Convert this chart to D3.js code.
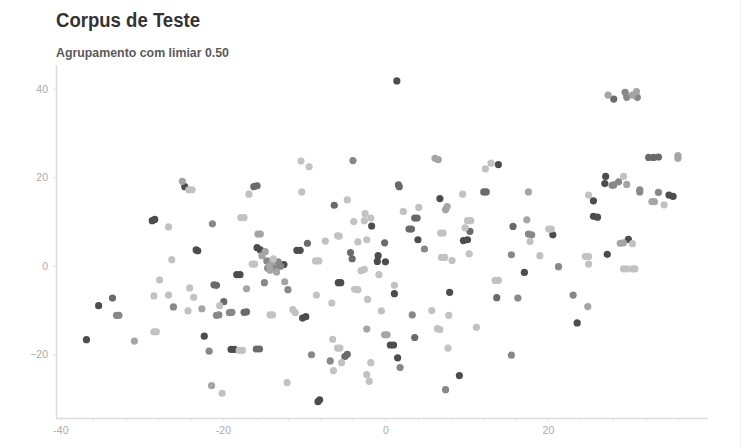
<!DOCTYPE html>
<html><head><meta charset="utf-8">
<script src="https://cdn.jsdelivr.net/npm/d3@7"></script>
<style>
body{margin:0;background:#fff;}
svg{display:block;font-family:"Liberation Sans",Arial,sans-serif;}
</style></head>
<body><svg id="chart" width="747" height="448"></svg>
<script>
const titleText = "Corpus de Teste";
const subtitleText = "Agrupamento com limiar 0.50";
const xTickValues = d3.range(-40, 37, 4);
const xTickLabels = [-40, -20, 0, 20];
const yTickValues = [-20, 0, 20, 40];
const shadeColors = ["#4d4d4d", "#6a6a6a", "#888888", "#a5a5a5", "#c2c2c2"];

const cluster1 = [[-24.7,17.9],[-28.7,10.2],[-28.4,10.5],[-15.8,4.1],[-15.4,3.6],[-23.3,3.6],[-23.1,3.4],[1.4,41.8],[13.9,22.9],[6.7,15.2],[-1.7,9.0],[9.6,5.7],[10.1,5.9],[4.0,5.9],[-10.9,3.5],[-10.5,3.5],[27.1,20.2],[27.0,18.6],[34.9,16.0],[35.4,15.7],[25.6,14.7],[25.6,11.2],[26.1,11.0],[20.6,7.0],[29.9,6.0],[17.1,-1.5],[27.3,2.6],[23.6,-12.9],[7.9,-6.0],[-0.9,2.3],[-1.0,1.0],[0.0,0.9],[-5.8,-3.8],[-5.5,-3.8],[1.1,-6.3],[-10.2,-11.8],[-9.8,-11.5],[-12.5,0.3],[-18.3,-2.0],[-17.9,-2.0],[-35.3,-9.0],[-36.8,-16.7],[-22.3,-15.9],[-19.0,-18.9],[-18.6,-18.9],[-8.3,-30.7],[-8.1,-30.3],[0.6,-17.9],[1.0,-17.9],[1.5,-20.8],[9.1,-24.8]];
const cluster2 = [[-16.2,17.9],[-15.8,18.1],[28.1,37.7],[32.4,24.5],[33.0,24.5],[33.6,24.6],[1.6,18.3],[1.7,17.9],[12.1,16.7],[12.4,16.7],[-6.3,13.7],[3.6,10.8],[3.9,10.8],[2.9,8.3],[3.2,8.3],[10.4,7.8],[-0.1,5.2],[-9.6,5.1],[15.7,8.9],[13.7,-7.2],[-4.3,3.0],[-4.1,1.6],[-21.1,-4.3],[-20.8,-4.4],[-19.9,-8.1],[-33.6,-7.3],[-17.4,-10.5],[-17.1,-10.4],[-15.9,-18.8],[-15.5,-18.8],[-4.7,-20.0],[-5.0,-20.5],[3.6,-16.2]];
const cluster3 = [[-21.3,9.5],[-4.0,23.8],[4.8,3.8],[29.5,39.2],[29.7,38.1],[31.0,38.1],[28.1,18.3],[28.7,19.0],[27.9,18.2],[31.3,17.2],[31.3,16.7],[33.6,16.6],[17.6,7.2],[18.0,7.0],[15.5,2.5],[21.3,-0.2],[16.3,-7.3],[23.1,-6.6],[15.5,-20.2],[3.3,-11.1],[-14.6,1.1],[-13.5,-0.5],[-13.2,0.9],[-12.9,-0.1],[-14.5,-0.5],[-14.0,0.2],[-14.9,-3.8],[-12.0,-5.4],[-33.1,-11.2],[-32.8,-11.2],[-26.1,-9.3],[-20.8,-11.2],[-20.5,-11.1],[-19.2,-10.6],[-18.9,-10.5],[-21.7,-19.3],[-9.1,-20.1],[-6.8,-21.5],[1.8,-23.0],[7.4,-28.0]];
const cluster4 = [[-25.0,19.1],[-15.7,7.2],[-15.4,7.2],[6.1,24.3],[6.5,24.0],[7.6,13.4],[7.4,12.7],[27.4,38.6],[30.4,38.6],[30.9,39.4],[36.0,24.9],[36.0,24.3],[17.6,16.7],[29.7,18.4],[32.8,14.5],[33.1,14.5],[17.4,10.4],[28.9,5.1],[29.3,5.2],[24.9,-9.2],[-14.8,3.2],[-15.2,2.3],[-14.3,0.0],[-13.9,0.9],[-14.2,-1.0],[-13.4,-1.4],[-12.4,-3.6],[-17.1,-5.2],[-22.6,-9.7],[-30.9,-17.0],[-21.4,-27.1],[-2.3,-14.3],[-0.1,-15.6],[0.2,-15.6]];
const cluster5 = [[-24.2,17.2],[-23.8,17.2],[-26.7,8.8],[-16.8,16.2],[-17.8,10.9],[-17.4,10.9],[-10.4,23.7],[-9.4,22.4],[13.0,23.2],[12.3,21.9],[-10.3,16.7],[9.5,16.2],[-4.7,14.9],[2.2,12.3],[4.1,13.2],[-2.5,11.8],[-1.8,10.8],[-2.6,10.2],[-3.9,10.0],[10.1,10.2],[10.5,10.2],[9.8,8.6],[6.8,7.4],[7.1,7.4],[-2.3,5.9],[-3.4,5.4],[-5.9,6.8],[-5.7,6.7],[-7.4,5.6],[29.3,20.2],[34.3,13.8],[25.0,16.0],[17.8,5.5],[20.1,8.3],[20.4,8.3],[30.4,5.0],[19.0,2.3],[24.6,2.1],[25.0,2.1],[25.0,0.4],[29.3,-0.7],[29.7,-0.7],[30.4,-0.7],[30.7,-0.7],[13.5,-3.3],[13.9,-3.3],[10.3,2.7],[8.2,1.2],[6.9,1.9],[7.3,1.9],[-8.6,1.1],[-8.2,1.1],[-3.0,-1.1],[-2.6,-0.8],[-0.8,-2.0],[-3.8,-5.3],[-3.4,-5.4],[1.1,-4.4],[-8.5,-6.6],[-6.6,-8.4],[-2.2,-7.6],[-0.5,-10.2],[5.7,-10.1],[7.8,-11.2],[-16.4,0.4],[-16.1,0.4],[-13.8,1.6],[-26.3,1.4],[-27.8,-3.2],[-24.1,-5.0],[-28.5,-6.8],[-26.7,-6.6],[-23.6,-7.1],[-24.3,-10.2],[-20.4,-9.0],[-14.2,-11.1],[-13.9,-11.1],[-28.5,-14.9],[-28.2,-14.9],[-18.0,-19.1],[-17.6,-19.1],[-20.1,-28.8],[-11.4,-9.9],[-11.1,-10.6],[-6.5,-16.6],[-5.9,-18.6],[-5.6,-18.6],[-5.4,-21.9],[-6.4,-23.7],[-1.8,-21.9],[-2.3,-24.6],[-2.0,-26.1],[-12.1,-26.4],[6.4,-14.2],[6.7,-14.4],[7.7,-18.6],[11.2,-13.9]];

const clusters = [cluster1, cluster2, cluster3, cluster4, cluster5];

const svg = d3.select("#chart");
const plotLeft = 56, plotRight = 708, plotTop = 65, plotBottom = 418;
const x = d3.scaleLinear().domain([-40.55, 39.7]).range([plotLeft, plotRight]);
const y = d3.scaleLinear().domain([-34.4, 45.4]).range([plotBottom, plotTop]);

// faint right border
svg.append("line").attr("x1", 740.5).attr("x2", 740.5).attr("y1", 0).attr("y2", 448)
  .attr("stroke", "#f0f0f0").attr("stroke-width", 1);

// titles
svg.append("text").attr("x", 56).attr("y", 27).text(titleText)
  .attr("font-size", 20).attr("font-weight", "bold").attr("fill", "#333")
  .attr("textLength", 144).attr("lengthAdjust", "spacingAndGlyphs");
svg.append("text").attr("x", 56).attr("y", 57).text(subtitleText)
  .attr("font-size", 12.5).attr("font-weight", "bold").attr("fill", "#5a5a5a")
  .attr("textLength", 173).attr("lengthAdjust", "spacingAndGlyphs");

// x axis
const xAxis = d3.axisBottom(x).tickValues(xTickValues)
  .tickFormat(d => xTickLabels.includes(d) ? d : "").tickSize(3).tickPadding(6);
const gx = svg.append("g").attr("transform", `translate(0,${plotBottom})`).call(xAxis);
gx.select(".domain").remove();
gx.selectAll(".tick line").attr("stroke", "#e4e4e4");
gx.selectAll(".tick text").attr("fill", "#aaaaaa").attr("font-size", 10.5)
  .attr("font-family", "Liberation Sans, Arial, sans-serif");
svg.append("line").attr("x1", plotLeft).attr("x2", plotRight).attr("y1", plotBottom + 0.5).attr("y2", plotBottom + 0.5)
  .attr("stroke", "#dcdcdc").attr("stroke-width", 1.5);

// y axis
const yAxis = d3.axisLeft(y).tickValues(yTickValues).tickSize(3).tickPadding(5);
const gy = svg.append("g").attr("transform", `translate(${plotLeft},0)`).call(yAxis);
gy.select(".domain").remove();
gy.selectAll(".tick line").attr("stroke", "#e4e4e4");
gy.selectAll(".tick text").attr("fill", "#aaaaaa").attr("font-size", 10.5)
  .attr("font-family", "Liberation Sans, Arial, sans-serif");
svg.append("line").attr("x1", plotLeft + 0.5).attr("x2", plotLeft + 0.5).attr("y1", plotTop).attr("y2", plotBottom)
  .attr("stroke", "#dcdcdc").attr("stroke-width", 1.5);

// points
clusters.forEach((pts, i) => {
  svg.append("g").selectAll("circle").data(pts).join("circle")
    .attr("cx", d => x(d[0])).attr("cy", d => y(d[1])).attr("r", 3.6)
    .attr("fill", shadeColors[i]);
});
</script></body></html>
